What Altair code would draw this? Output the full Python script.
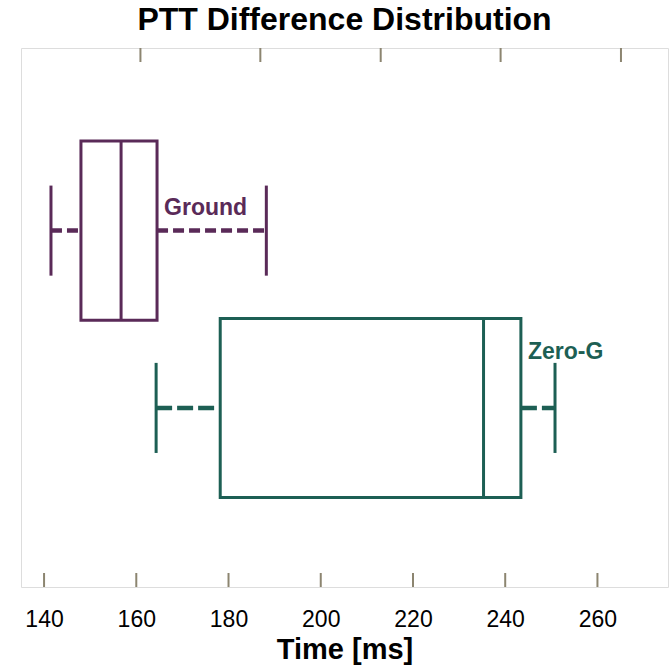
import altair as alt
import pandas as pd

# ---- data ----
groups = ["Ground", "Zero-G"]
positions = [1.0, 2.0]
whisker_low = [141.5, 164.3]
q1 = [148.0, 178.2]
median = [156.7, 235.3]
q3 = [164.5, 243.4]
whisker_high = [188.2, 250.8]
label_y = [0.91, 1.725]

bottom_ticks = [140, 160, 180, 200, 220, 240, 260]
top_ticks = [160.9, 186.9, 213.0, 239.0, 265.1]

colors = ["#5a2a58", "#1d5f54"]
frame = "#8c8570"

df = pd.DataFrame({
    "group": groups, "pos": positions, "low": whisker_low, "q1": q1,
    "median": median, "q3": q3, "high": whisker_high, "label_y": label_y,
})

W, H = 647, 539
xscale = alt.Scale(domain=[135, 275.3], nice=False, zero=False)
yscale = alt.Scale(domain=[-0.03, 3.01], nice=False, zero=False, reverse=True)
color = alt.Color("group:N", scale=alt.Scale(domain=groups, range=colors), legend=None)

base = alt.Chart(df).transform_calculate(
    box_top="datum.pos - 0.505", box_bot="datum.pos + 0.505",
    cap_top="datum.pos - 0.254", cap_bot="datum.pos + 0.254",
)

xaxis = alt.X("q1:Q", scale=xscale, title="Time [ms]",
              axis=alt.Axis(values=bottom_ticks, ticks=False, domain=False, grid=False,
                            labelFontSize=23, labelFont="Liberation Sans", labelColor="#000",
                            labelPadding=21, titleFontSize=29, titleFont="Liberation Sans",
                            titleFontWeight="bold", titleColor="#000", titlePadding=4))

boxes = base.mark_rect(fill="white", strokeWidth=3).encode(
    x=xaxis, x2="q3:Q",
    y=alt.Y("box_top:Q", scale=yscale, axis=None), y2="box_bot:Q",
    stroke=color,
)

medians = base.mark_rule(strokeWidth=3).encode(
    x=alt.X("median:Q", scale=xscale), y=alt.Y("box_top:Q", scale=yscale), y2="box_bot:Q", color=color)

caps_low = base.mark_rule(strokeWidth=3).encode(
    x=alt.X("low:Q", scale=xscale), y=alt.Y("cap_top:Q", scale=yscale), y2="cap_bot:Q", color=color)
caps_high = base.mark_rule(strokeWidth=3).encode(
    x=alt.X("high:Q", scale=xscale), y=alt.Y("cap_top:Q", scale=yscale), y2="cap_bot:Q", color=color)

dash = alt.StrokeDash("group:N", scale=alt.Scale(domain=groups, range=[[11, 5], [16, 5]]), legend=None)
wh_low = base.mark_rule(strokeWidth=4.5).encode(
    x=alt.X("low:Q", scale=xscale), x2="q1:Q", y=alt.Y("pos:Q", scale=yscale), color=color, strokeDash=dash)
wh_high = base.mark_rule(strokeWidth=4.5).encode(
    x=alt.X("q3:Q", scale=xscale), x2="high:Q", y=alt.Y("pos:Q", scale=yscale), color=color, strokeDash=dash)

labels = base.mark_text(align="left", baseline="alphabetic", dx=7, fontSize=23,
                        fontWeight="bold", font="Liberation Sans").encode(
    x=alt.X("q3:Q", scale=xscale), y=alt.Y("label_y:Q", scale=yscale), text="group:N", color=color)

bt = alt.Chart(pd.DataFrame({"t": bottom_ticks})).mark_rule(color=frame, strokeWidth=2).encode(
    x=alt.X("t:Q", scale=xscale), y=alt.value(H - 14), y2=alt.value(H))
tt = alt.Chart(pd.DataFrame({"t": top_ticks})).mark_rule(color=frame, strokeWidth=2).encode(
    x=alt.X("t:Q", scale=xscale), y=alt.value(0), y2=alt.value(14))

chart = alt.layer(boxes, medians, caps_low, caps_high, wh_low, wh_high, labels, bt, tt).properties(
    width=W, height=H,
    title=alt.TitleParams("PTT Difference Distribution", fontSize=32, fontWeight="bold",
                          font="Liberation Sans", color="#000", anchor="middle", offset=10),
    padding={"left": 21, "top": 48, "right": 2, "bottom": 85},
    autosize=alt.AutoSizeParams(type="none"),
).configure_view(stroke=frame, strokeWidth=2).configure(background="white")

chart.save("out.html", embed_options={"renderer": "svg", "actions": False})
